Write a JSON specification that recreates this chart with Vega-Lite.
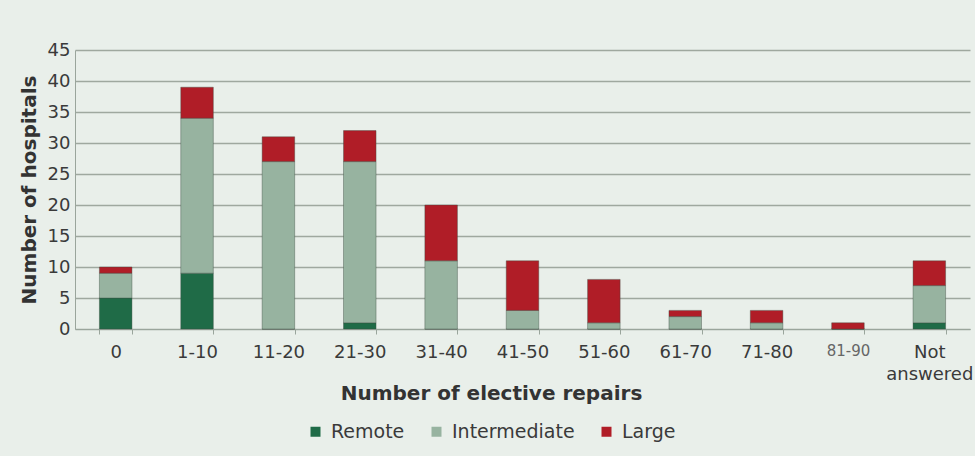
{
  "$schema": "https://vega.github.io/schema/vega-lite/v6.json",
  "width": 895,
  "height": 279,
  "autosize": {"type": "pad"},
  "padding": {"left": 19, "top": 41, "right": 3, "bottom": 15},
  "background": "#e9efea",
  "config": {
    "font": "DejaVu Sans",
    "view": {"stroke": null},
    "axis": {"labelColor": "#3a3a3a", "titleColor": "#333"}
  },
  "data": {
    "values": [
      {"cat": "0", "type": "Remote", "value": 5, "ord": 1},
      {"cat": "0", "type": "Intermediate", "value": 4, "ord": 2},
      {"cat": "0", "type": "Large", "value": 1, "ord": 3},
      {"cat": "1-10", "type": "Remote", "value": 9, "ord": 1},
      {"cat": "1-10", "type": "Intermediate", "value": 25, "ord": 2},
      {"cat": "1-10", "type": "Large", "value": 5, "ord": 3},
      {"cat": "11-20", "type": "Remote", "value": 0, "ord": 1},
      {"cat": "11-20", "type": "Intermediate", "value": 27, "ord": 2},
      {"cat": "11-20", "type": "Large", "value": 4, "ord": 3},
      {"cat": "21-30", "type": "Remote", "value": 1, "ord": 1},
      {"cat": "21-30", "type": "Intermediate", "value": 26, "ord": 2},
      {"cat": "21-30", "type": "Large", "value": 5, "ord": 3},
      {"cat": "31-40", "type": "Remote", "value": 0, "ord": 1},
      {"cat": "31-40", "type": "Intermediate", "value": 11, "ord": 2},
      {"cat": "31-40", "type": "Large", "value": 9, "ord": 3},
      {"cat": "41-50", "type": "Remote", "value": 0, "ord": 1},
      {"cat": "41-50", "type": "Intermediate", "value": 3, "ord": 2},
      {"cat": "41-50", "type": "Large", "value": 8, "ord": 3},
      {"cat": "51-60", "type": "Remote", "value": 0, "ord": 1},
      {"cat": "51-60", "type": "Intermediate", "value": 1, "ord": 2},
      {"cat": "51-60", "type": "Large", "value": 7, "ord": 3},
      {"cat": "61-70", "type": "Remote", "value": 0, "ord": 1},
      {"cat": "61-70", "type": "Intermediate", "value": 2, "ord": 2},
      {"cat": "61-70", "type": "Large", "value": 1, "ord": 3},
      {"cat": "71-80", "type": "Remote", "value": 0, "ord": 1},
      {"cat": "71-80", "type": "Intermediate", "value": 1, "ord": 2},
      {"cat": "71-80", "type": "Large", "value": 2, "ord": 3},
      {"cat": "81-90", "type": "Remote", "value": 0, "ord": 1},
      {"cat": "81-90", "type": "Intermediate", "value": 0, "ord": 2},
      {"cat": "81-90", "type": "Large", "value": 1, "ord": 3},
      {"cat": "Not answered", "type": "Remote", "value": 1, "ord": 1},
      {"cat": "Not answered", "type": "Intermediate", "value": 6, "ord": 2},
      {"cat": "Not answered", "type": "Large", "value": 4, "ord": 3}
    ]
  },
  "mark": {"type": "bar", "stroke": "#3d4a40", "strokeWidth": 0.8, "strokeOpacity": 0.5},
  "encoding": {
    "x": {
      "field": "cat",
      "type": "nominal",
      "sort": null,
      "scale": {"paddingInner": 0.6, "paddingOuter": 0.3},
      "axis": {
        "title": "Number of elective repairs",
        "titleFontSize": 20,
        "titleFontWeight": "bold",
        "titleX": 416,
        "titleY": 64,
        "titleBaseline": "middle",
        "labelAngle": 0,
        "labelFontSize": {"condition": {"test": "datum.label == '81-90'", "value": 15}, "value": 18},
        "labelColor": {"condition": {"test": "datum.label == '81-90'", "value": "#666"}, "value": "#3a3a3a"},
        "labelPadding": 9,
        "labelLineHeight": 22,
        "labelExpr": "datum.label == 'Not answered' ? ['Not', 'answered'] : datum.label",
        "domainColor": "#9aa59c",
        "tickColor": "#9aa59c",
        "tickSize": 5,
        "tickBand": "extent"
      }
    },
    "y": {
      "field": "value",
      "type": "quantitative",
      "aggregate": "sum",
      "stack": "zero",
      "scale": {"domain": [0, 45]},
      "axis": {
        "title": "Number of hospitals",
        "titleFontSize": 20,
        "titleFontWeight": "bold",
        "titlePadding": 8,
        "values": [0, 5, 10, 15, 20, 25, 30, 35, 40, 45],
        "labelFontSize": 18,
        "labelPadding": 5,
        "tickSize": 0,
        "domainColor": "#9aa59c",
        "gridColor": "#9fa89f",
        "gridWidth": 1.5
      }
    },
    "color": {
      "field": "type",
      "type": "nominal",
      "scale": {
        "domain": ["Remote", "Intermediate", "Large"],
        "range": ["#1f6b47", "#97b3a0", "#b01d27"]
      },
      "legend": {
        "title": null,
        "orient": "none",
        "direction": "horizontal",
        "legendX": 231,
        "legendY": 372,
        "symbolType": "square",
        "symbolSize": 100,
        "symbolStrokeWidth": 0,
        "labelFontSize": 19,
        "labelColor": "#3a3a3a",
        "columnPadding": 22,
        "labelOffset": 6
      }
    },
    "order": {"field": "ord", "type": "quantitative"}
  }
}
